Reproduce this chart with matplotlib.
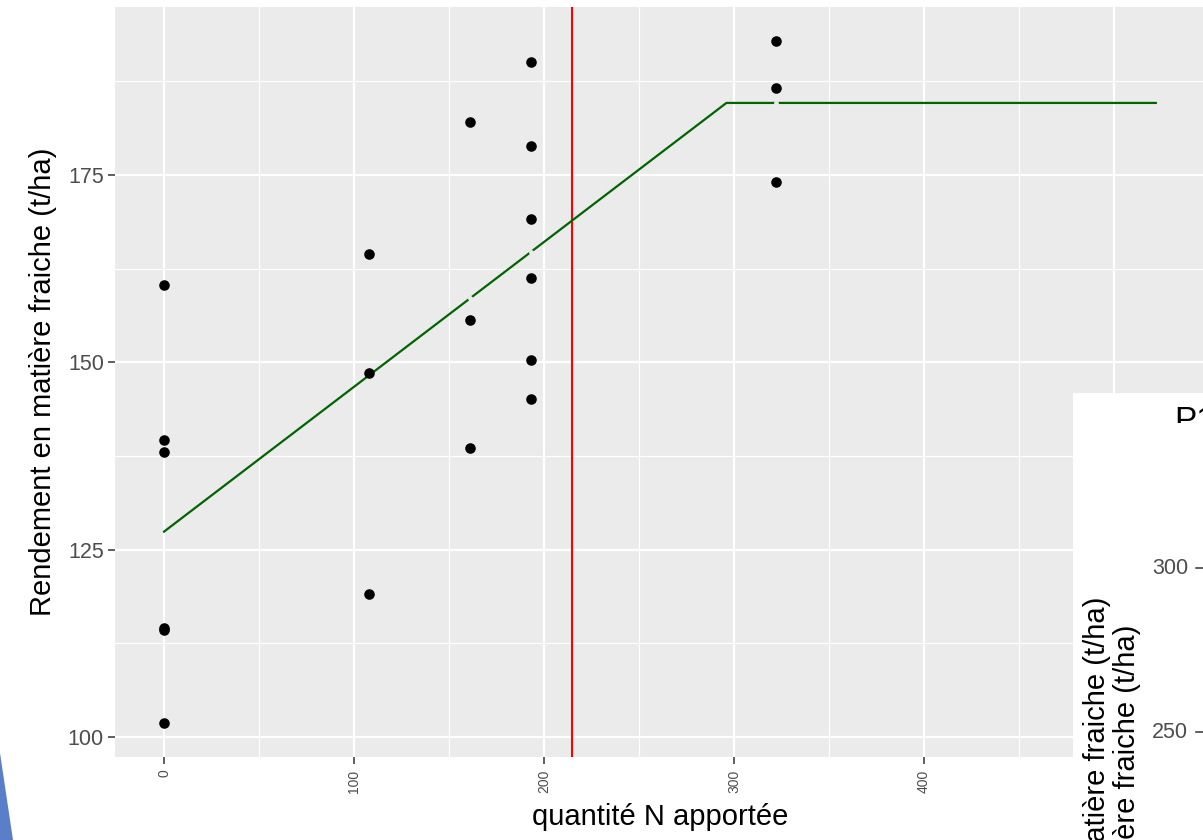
import numpy as np
import matplotlib
matplotlib.use("Agg")
from matplotlib import pyplot as plt
from matplotlib.patches import Polygon, Rectangle
from matplotlib.ticker import MultipleLocator

plt.rcParams['font.family'] = ['Liberation Sans', 'DejaVu Sans']

# observations : dose d'azote et rendement
dose_n = [0, 0, 0, 0, 0, 0,
          108, 108, 108,
          161, 161, 161,
          193, 193, 193, 193, 193, 193,
          322, 322, 322]
rendement = [160.3, 139.6, 138.0, 114.6, 114.3, 101.9,
             164.5, 148.5, 119.1,
             182.1, 155.6, 138.5,
             190.1, 178.9, 169.1, 161.3, 150.3, 145.1,
             192.9, 186.6, 174.1]

# modele lineaire-plateau ajuste
fit_x = [0, 296, 522]
fit_y = [127.4, 184.6, 184.6]
dose_optimale = 214.7

W, H = 1203, 840
fig = plt.figure(figsize=(W / 100, H / 100), dpi=100)
fig.patch.set_facecolor("white")

# axe principal, en pixels -> fraction
left, right, top, bottom = 115, 1205, 7, 757
ax = fig.add_axes([left / W, 1 - bottom / H, (right - left) / W, (bottom - top) / H])
ax.set_facecolor("#EBEBEB")
for s in ax.spines.values():
    s.set_visible(False)

ax.set_xlim(-25.8, 547.9)
ax.set_ylim(97.33, 197.4)
ax.xaxis.set_major_locator(MultipleLocator(100))
ax.xaxis.set_minor_locator(MultipleLocator(50))
ax.yaxis.set_major_locator(MultipleLocator(25))
ax.yaxis.set_minor_locator(MultipleLocator(12.5))
ax.grid(which="major", color="white", linewidth=1.6)
ax.grid(which="minor", color="white", linewidth=0.8)
ax.set_axisbelow(True)

ax.tick_params(which="major", length=5, width=1.1, color="#333333",
               labelcolor="#4D4D4D", pad=3)
ax.tick_params(which="minor", length=0)
ax.tick_params(axis="y", labelsize=15.5)
ax.tick_params(axis="x", labelsize=10, labelrotation=90, pad=4)

# droite verticale : dose optimale
ax.axvline(dose_optimale, color="red", linewidth=1.5, zorder=2)

# courbe ajustee
ax.plot(fit_x, fit_y, color="#006400", linewidth=1.6, zorder=3)
doses_uniques = sorted(set(dose_n))[1:]
ax.plot(doses_uniques, np.interp(doses_uniques, fit_x, fit_y), "o",
        color="#EBEBEB", markersize=3.5, markeredgewidth=0, zorder=4)

ax.scatter(dose_n, rendement, s=58, color="black", zorder=5, linewidths=0)

ax.set_xlabel("quantité N apportée", fontsize=21, labelpad=7)
ax.set_ylabel("Rendement en matière fraiche (t/ha)", fontsize=21, labelpad=8)

# morceau d'une autre figure superposee en bas a droite
fig.patches.append(Rectangle((1073 / W, 0), 1, 1 - 393 / H, transform=fig.transFigure,
                             facecolor="white", edgecolor="none", zorder=10))
clip = Rectangle((1073 / W, 1 - 423 / H), 1, 29 / H, transform=fig.transFigure,
                 facecolor="none", edgecolor="none")
fig.patches.append(clip)
t = fig.text(1174 / W, 1 - 406 / H, "P1", fontsize=24, ha="left", va="top", zorder=11)
t.set_clip_path(clip)
for lab, yy in [("300", 568), ("250", 732)]:
    fig.text(1188 / W, 1 - yy / H, lab, fontsize=15.5, color="#4D4D4D",
             ha="right", va="center", zorder=11)
    fig.lines.append(plt.Line2D([1196 / W, 1203 / W], [1 - yy / H, 1 - yy / H],
                                transform=fig.transFigure, color="#333333",
                                linewidth=1.1, zorder=11))
for xx, yy in [(1097, 597), (1127, 625)]:
    fig.text(xx / W, 1 - yy / H, "Rendement en matière fraiche (t/ha)", fontsize=21,
             rotation=90, rotation_mode="anchor", ha="right", va="center", zorder=11)

# triangle bleu en bas a gauche
fig.patches.append(Polygon([(0, 1 - 753 / H), (13 / W, 0), (0, 0)], closed=True,
                           transform=fig.transFigure, facecolor="#5A7EC7",
                           edgecolor="none", zorder=10))

fig.savefig("out.png", dpi=100)
